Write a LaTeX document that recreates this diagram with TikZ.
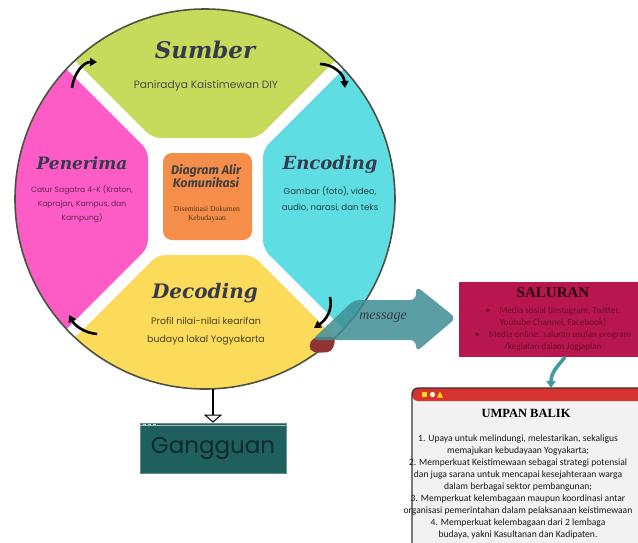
\documentclass[tikz,border=0pt]{standalone}
\usepackage{fontspec}
\setmainfont{Liberation Serif}
\newfontfamily\ttlfont{DejaVu Serif}
\newfontfamily\geofont{Poppins}
\newfontfamily\calfont{Carlito}
\newfontfamily\firafont{Fira Sans}
\usetikzlibrary{arrows.meta}
\definecolor{cgreen}{HTML}{C6DA5B}
\definecolor{ccyan}{HTML}{5EDDE3}
\definecolor{cpink}{HTML}{FD5BC6}
\definecolor{cyellow}{HTML}{FCDA5A}
\definecolor{corange}{HTML}{F68E4B}
\definecolor{ctitle}{HTML}{363B4B}
\definecolor{cring}{HTML}{4B5340}
\definecolor{cteal}{HTML}{3F8F95}
\definecolor{cgang}{HTML}{1F5F5E}
\definecolor{cgangtxt}{HTML}{0E2A2E}
\definecolor{csal}{HTML}{B7174E}
\definecolor{csaltxt}{HTML}{6E0B2A}
\definecolor{cbar}{HTML}{D8322E}
\definecolor{cwin}{HTML}{F2F2F2}
\definecolor{cmid}{HTML}{8E3434}
\definecolor{ctealarr}{HTML}{3C9AA0}
\tikzset{
  ttl/.style={font=\ttlfont\bfseries\itshape, text=ctitle, inner sep=0pt},
  sub/.style={font=\geofont, inner sep=0pt, align=center},
  cycarrow/.style={line width=2.6pt, -{Triangle[length=7pt,width=8pt]}, black},
  gbox/.style={fill=cgang, draw=cgang!70!white, line width=0.6pt, minimum width=146pt, minimum height=50pt, inner sep=0pt, font=\geofont\fontsize{23}{23}\selectfont, text=cgangtxt},
  salbox/.style={fill=csal, minimum width=181pt, minimum height=75pt, inner sep=0pt},
  winbox/.style={fill=cwin, draw=black!80, line width=1.2pt, rounded corners=6pt, minimum width=250pt, minimum height=182pt, inner sep=0pt,
    path picture={\fill[cbar] (path picture bounding box.north west) rectangle ([yshift=-13pt]path picture bounding box.north east);}},
}
\begin{document}
\begin{tikzpicture}[x=1pt,y=-1pt]
\useasboundingbox (0,0) rectangle (638,542);
\fill[white] (0,0) rectangle (638,542);
% wheel regions
\begin{scope}
\clip (205,199) circle[radius=190];
\fill[cgreen, rounded corners=8pt] (-185.5,-200) -- (152.5,138) -- (257.5,138) -- (595.5,-200) -- cycle;
\fill[ccyan, rounded corners=8pt] (663,-250) -- (263,149.5) -- (263,248.5) -- (663,648.5) -- cycle;
\fill[cyellow, rounded corners=8pt] (-242.5,655) -- (157.5,255) -- (252.5,255) -- (652.5,655) -- cycle;
\fill[cpink, rounded corners=8pt] (-252,-249.5) -- (148,150.5) -- (148,247.5) -- (-252,647.5) -- cycle;
\end{scope}
\draw[cring, line width=1.6pt] (205,199) circle[radius=190];
% centre box
\fill[corange, rounded corners=9pt] (163,153) rectangle (252,240);
\node[font=\firafont\bfseries\itshape\fontsize{12.5}{12.5}\selectfont, text=black!75, align=center, inner sep=0pt] (ctitle) at (206,176) {Diagram Alir\\Komunikasi};
\node[font=\fontsize{7.6}{9}\selectfont, text=black!65!corange, align=center, inner sep=0pt] (csub) at (207,214) {Diseminasi Dokumen\\Kebudayaan};
% titles
\node[ttl, font=\ttlfont\bfseries\itshape\fontsize{23}{23}\selectfont] (sumber) at (205,50) {Sumber};
\node[sub, font=\geofont\fontsize{10.6}{11}\selectfont, text=black!70] (sumbert) at (206,86) {Paniradya Kaistimewan DIY};
\node[ttl, font=\ttlfont\bfseries\itshape\fontsize{17}{17}\selectfont] (pener) at (82,163) {Penerima};
\node[sub, font=\geofont\fontsize{7.6}{14}\selectfont, text=black!60!cpink] (penert) at (82,204) {Catur Sagatra 4-K (Kraton,\\Kaprajan, Kampus, dan\\Kampung)};
\node[ttl, font=\ttlfont\bfseries\itshape\fontsize{18}{18}\selectfont] (enc) at (330,165) {Encoding};
\node[sub, font=\geofont\fontsize{8.6}{15.5}\selectfont, text=black!70!ccyan] (enct) at (330,199) {Gambar (foto), video,\\audio, narasi, dan teks};
\node[ttl, font=\ttlfont\bfseries\itshape\fontsize{20}{20}\selectfont] (dec) at (205,293) {Decoding};
\node[sub, font=\geofont\fontsize{9.4}{18}\selectfont, text=black!70!cyellow] (dect) at (206,331) {Profil nilai-nilai kearifan\\budaya lokal Yogyakarta};
% cycle arrows
\coordinate (a1s) at (72,88); \coordinate (a1e) at (97,62);
\coordinate (a2s) at (320,64); \coordinate (a2e) at (345,88);
\coordinate (a3s) at (330,297); \coordinate (a3e) at (314,328);
\coordinate (a4s) at (97,334); \coordinate (a4e) at (69,315);
\draw[cycarrow] (a1s) .. controls (74,72) and (84,62) .. (a1e);
\draw[cycarrow] (a2s) .. controls (333,64) and (344,74) .. (a2e);
\draw[cycarrow] (a3s) .. controls (333,310) and (326,320) .. (a3e);
\draw[cycarrow] (a4s) .. controls (85,333) and (75,326) .. (a4e);
% message arrow
\fill[cmid, rounded corners=5pt] (308,346) -- (314,337) -- (336,337) -- (332,352) -- (313,353) -- cycle;
\fill[cteal, opacity=0.85, rounded corners=6pt] (354,300) -- (416,300) -- (416,286) -- (456,318) -- (416,352) -- (416,340) -- (312,340) -- cycle;
\node[font=\itshape\fontsize{14}{14}\selectfont, text=ctitle, inner sep=0pt] (msg) at (383,318) {message};
% Gangguan
\coordinate (cb) at (213,389);
\node[gbox] (gang) at (213,448) {Gangguan};
\draw[cgang!40!white, line width=0.7pt] ([yshift=-3pt]gang.north west) -- ([yshift=-3pt]gang.north east);
\foreach \xx in {143,148,153} \fill[cgang!30!white] (\xx,423.5) rectangle +(3,1.5);
\draw[black, line width=1.6pt, -{Triangle[open, fill=white, length=8pt, width=18pt, line width=1pt]}] (cb) -- (gang.north);
% SALURAN
\node[salbox] (sal) at (549.5,319.5) {};
\node[font=\bfseries\fontsize{15}{15}\selectfont, text=black!80!csal, inner sep=0pt] (salt) at (553,293) {SALURAN};
\node[font=\calfont\fontsize{9.2}{12}\selectfont, text=csaltxt, align=center, inner sep=0pt] (salb) at (553,329) {\textbullet\quad Media sosial (Instagram, Twitter,\\Youtube Channel, Facebook)\\\textbullet\quad Media online: saluran usulan program\\/kegiatan dalam Jogjaplan};
% UMPAN BALIK
\node[winbox] (ub) at (537,479) {};
\fill[yellow!80!orange] (422,392) rectangle +(5,5);
\fill[white!85!yellow] (432.5,394.5) circle[radius=2.6];
\fill[yellow!80!orange] (437,397.5) -- (440,391.5) -- (443,397.5) -- cycle;
\node[font=\bfseries\fontsize{12.5}{12.5}\selectfont, inner sep=0pt] (ubt) at (526,413) {UMPAN BALIK};
\node[font=\calfont\fontsize{9.6}{12.1}\selectfont, text=black!90, align=center, inner sep=0pt] (ubb) at (518,487) {1. Upaya untuk melindungi, melestarikan, sekaligus\\memajukan kebudayaan Yogyakarta;\\2. Memperkuat Keistimewaan sebagai strategi potensial\\dan juga sarana untuk mencapai kesejahteraan warga\\dalam berbagai sektor pembangunan;\\3. Memperkuat kelembagaan maupun koordinasi antar\\organisasi pemerintahan dalam pelaksanaan keistimewaan\\4. Memperkuat kelembagaan dari 2 lembaga\\budaya, yakni Kasultanan dan Kadipaten.};
% teal connector
\coordinate (t1) at (565,357);
\coordinate (t2) at (551,388);
\draw[ctealarr, line width=3.5pt, -{Triangle[length=7pt,width=9pt]}] (t1) .. controls (558,366) and (551,372) .. (t2);
\end{tikzpicture}
\end{document}
